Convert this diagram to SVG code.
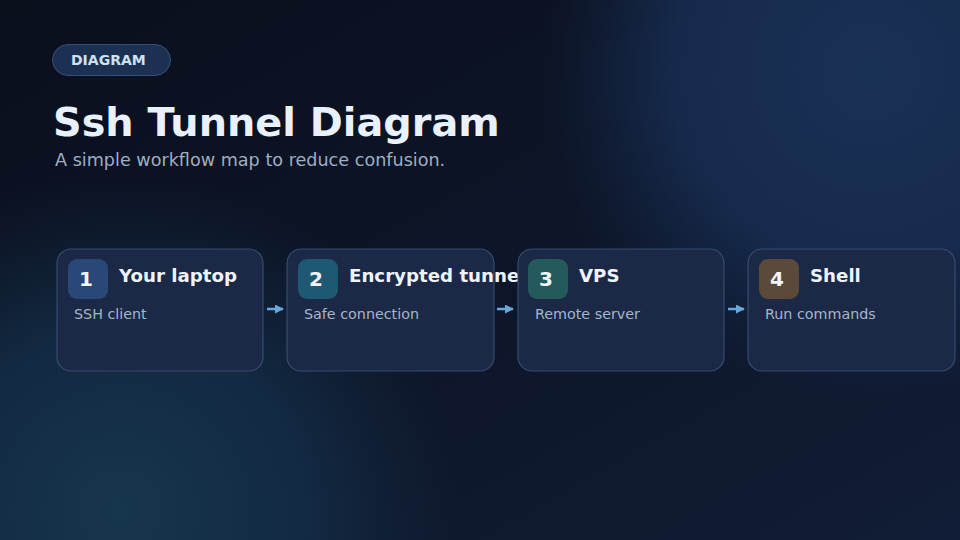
<svg xmlns="http://www.w3.org/2000/svg" width="960" height="540" viewBox="0 0 960 540">
<defs>
<linearGradient id="bgBase" x1="0" y1="0" x2="1" y2="1">
<stop offset="0" stop-color="#0a0f1c"/>
<stop offset="0.5" stop-color="#0d1528"/>
<stop offset="1" stop-color="#111d36"/>
</linearGradient>
<radialGradient id="glowTR" cx="870" cy="70" r="330" gradientUnits="userSpaceOnUse">
<stop offset="0" stop-color="#1a3156" stop-opacity="1"/>
<stop offset="0.6" stop-color="#172c4f" stop-opacity="0.9"/>
<stop offset="1" stop-color="#142646" stop-opacity="0"/>
</radialGradient>
<radialGradient id="glowBL" cx="120" cy="510" r="340" gradientUnits="userSpaceOnUse">
<stop offset="0" stop-color="#16364e" stop-opacity="1"/>
<stop offset="0.55" stop-color="#14304a" stop-opacity="0.75"/>
<stop offset="1" stop-color="#12283f" stop-opacity="0"/>
</radialGradient>
<marker id="arrow" viewBox="0 0 10 10" refX="9" refY="5" markerWidth="9" markerHeight="9" markerUnits="userSpaceOnUse" orient="auto">
<path d="M0,0 L10,5 L0,10 Z" fill="#6aa8dc"/>
</marker>
<style>
.card{fill:#1b2947;stroke:#3b5478;stroke-width:1.2;stroke-opacity:0.85}
.badge-num{font-family:"DejaVu Sans",sans-serif;font-weight:bold;font-size:20px;fill:#f2f6fb;text-anchor:middle}
.title{font-family:"DejaVu Sans",sans-serif;font-weight:bold;font-size:18.2px;fill:#eef4fb}
.sub{font-family:"DejaVu Sans",sans-serif;font-size:14.3px;fill:#a7b5c7}
.conn{stroke:#6aa8dc;stroke-width:2.5;fill:none}
</style>
</defs>
<rect width="960" height="540" fill="url(#bgBase)"/>
<rect width="960" height="540" fill="url(#glowTR)"/>
<rect width="960" height="540" fill="url(#glowBL)"/>

<g id="header">
<rect x="52.5" y="44.5" width="118" height="31" rx="15.5" fill="#1c3152" stroke="#34507a" stroke-width="1"/>
<text x="71" y="65" font-family="DejaVu Sans, sans-serif" font-weight="bold" font-size="14" fill="#cfe0f4">DIAGRAM</text>
<text x="53" y="136" font-family="DejaVu Sans, sans-serif" font-weight="bold" font-size="39.8" fill="#e9f2fc">Ssh Tunnel Diagram</text>
<text x="55" y="166" font-family="DejaVu Sans, sans-serif" font-size="17.6" fill="#9eaec3">A simple workflow map to reduce confusion.</text>
</g>

<g id="connectors">
<line class="conn" x1="267" y1="309" x2="283" y2="309" marker-end="url(#arrow)"/>
<line class="conn" x1="497" y1="309" x2="513" y2="309" marker-end="url(#arrow)"/>
<line class="conn" x1="728" y1="309" x2="744" y2="309" marker-end="url(#arrow)"/>
</g>

<g id="node1">
<rect class="card" x="57" y="249" width="206" height="122" rx="14"/>
<rect x="68" y="259" width="40" height="40" rx="9" fill="#2a4877"/>
<text class="badge-num" x="86" y="286">1</text>
<text class="title" x="119" y="282">Your laptop</text>
<text class="sub" x="74" y="319">SSH client</text>
</g>

<g id="node2">
<rect class="card" x="287" y="249" width="207" height="122" rx="14"/>
<rect x="298" y="259" width="40" height="40" rx="9" fill="#1f5873"/>
<text class="badge-num" x="316" y="286">2</text>
<text class="title" x="349" y="282">Encrypted tunnel</text>
<text class="sub" x="304" y="319">Safe connection</text>
</g>

<g id="node3">
<rect class="card" x="518" y="249" width="206" height="122" rx="14"/>
<rect x="528" y="259" width="40" height="40" rx="9" fill="#245a5a"/>
<text class="badge-num" x="546" y="286">3</text>
<text class="title" x="579" y="282">VPS</text>
<text class="sub" x="535" y="319">Remote server</text>
</g>

<g id="node4">
<rect class="card" x="748" y="249" width="207" height="122" rx="14"/>
<rect x="759" y="259" width="40" height="40" rx="9" fill="#5b4a3a"/>
<text class="badge-num" x="777" y="286">4</text>
<text class="title" x="810" y="282">Shell</text>
<text class="sub" x="765" y="319">Run commands</text>
</g>
</svg>
